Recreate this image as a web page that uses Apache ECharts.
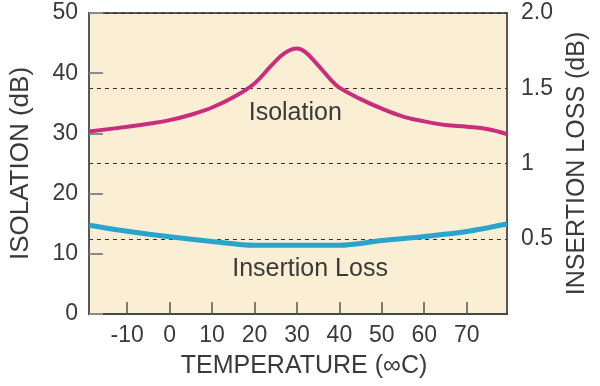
<!DOCTYPE html>
<html>
<head>
<meta charset="utf-8">
<script src="https://cdn.jsdelivr.net/npm/echarts@6/dist/echarts.min.js"></script>
<style>
html,body{margin:0;padding:0;background:#fff;}
#c{width:600px;height:386px;}
</style>
</head>
<body>
<div id="c"></div>
<script>
// Temperatures (°C) at which the curves were read
const isoTemps = [-19, -10, -5, 0, 5, 10, 15, 20, 24, 27, 30, 32, 35, 38, 40, 45, 50, 55, 60, 65, 70, 75, 79.5];
// Isolation (dB), left axis
const isolation = [30.3, 31.1, 31.6, 32.2, 33.1, 34.3, 36.0, 38.3, 41.3, 43.3, 44.1, 43.5, 41.3, 38.9, 37.6, 35.7, 34.1, 32.8, 32.0, 31.4, 31.1, 30.7, 29.9];
// Insertion loss temps and values (dB), right axis
const ilTemps = [-19, -10, 0, 10, 20, 30, 40, 50, 60, 70, 79.5];
const insertionLoss = [0.59, 0.55, 0.513, 0.482, 0.457, 0.457, 0.457, 0.488, 0.515, 0.548, 0.598];
// Right-axis tick labels
const rightTickValues = [0.5, 1, 1.5, 2];
const rightTickLabels = ['0.5', '1', '1.5', '2.0'];
// Curve annotations: [temperature, value]
const isoLabel = {text: 'Isolation', at: [29.6, 33.4]};
const ilLabel = {text: 'Insertion Loss', at: [33.1, 0.295]};

const isoData = isoTemps.map((t, i) => [t, isolation[i]]);
const ilData = ilTemps.map((t, i) => [t, insertionLoss[i]]);

const FONT = 'Liberation Sans';
const TXT = '#3a3a3a';

const chart = echarts.init(document.getElementById('c'), null, {renderer: 'canvas'});
chart.setOption({
  animation: false,
  backgroundColor: '#ffffff',
  textStyle: {fontFamily: FONT},
  grid: {
    left: 89, right: 93, top: 13, bottom: 72,
    containLabel: false,
    show: true,
    backgroundColor: '#FAEED4',
    borderColor: '#575757',
    borderWidth: 2
  },
  xAxis: {
    type: 'value',
    min: -19, max: 79.5,
    splitNumber: 10, minInterval: 10, maxInterval: 10,
    name: 'TEMPERATURE (\u221EC)',
    nameLocation: 'middle',
    nameGap: 40,
    nameTextStyle: {fontFamily: FONT, fontSize: 25, color: TXT, padding: [0, 0, 0, 12]},
    axisLine: {show: true, onZero: false, lineStyle: {color: '#474747', width: 2}},
    axisTick: {show: true, inside: true, length: 12, lineStyle: {color: '#555', width: 1.5}},
    axisLabel: {show: true, showMinLabel: false, showMaxLabel: false, fontFamily: FONT, fontSize: 23, color: TXT, margin: 10},
    splitLine: {show: false}
  },
  yAxis: [
    {
      type: 'value', min: 0, max: 50, interval: 10,
      name: 'ISOLATION (dB)',
      nameLocation: 'middle', nameRotate: 90, nameGap: 55,
      nameTextStyle: {fontFamily: FONT, fontSize: 26, color: TXT},
      axisLine: {show: true, onZero: false, lineStyle: {color: '#575757', width: 2}},
      axisTick: {show: true, inside: true, length: 14, lineStyle: {color: '#8a8a8a', width: 2}},
      axisLabel: {fontFamily: FONT, fontSize: 23, color: TXT, margin: 11},
      splitLine: {show: false}
    },
    {
      type: 'value', min: 0, max: 2, interval: 0.5,
      position: 'right',
      name: 'INSERTION LOSS (dB)',
      nameLocation: 'middle', nameRotate: 90, nameGap: 58,
      nameTextStyle: {fontFamily: FONT, fontSize: 25, color: TXT},
      axisLine: {show: false, onZero: false},
      axisTick: {show: false},
      axisLabel: {
        fontFamily: FONT, fontSize: 23, color: TXT, margin: 14,
        showMinLabel: false,
        formatter: function (v) {
          const i = rightTickValues.findIndex(x => Math.abs(x - v) < 1e-9);
          return i >= 0 ? rightTickLabels[i] : '';
        }
      },
      splitLine: {show: true, lineStyle: {color: '#333', width: 1, type: [4, 4]}}
    }
  ],
  series: [
    {
      name: 'Isolation', type: 'line', xAxisIndex: 0, yAxisIndex: 0,
      data: isoData, smooth: 0.4, showSymbol: false, symbol: 'none',
      lineStyle: {color: '#C92D7B', width: 4},
      itemStyle: {color: '#C92D7B'},
      z: 3,
      markPoint: {
        symbol: 'circle', symbolSize: 0,
        label: {show: true, position: 'inside', formatter: isoLabel.text, color: TXT, fontFamily: FONT, fontSize: 25},
        data: [{coord: isoLabel.at}]
      }
    },
    {
      name: 'Insertion Loss', type: 'line', xAxisIndex: 0, yAxisIndex: 1,
      data: ilData, smooth: 0.3, showSymbol: false, symbol: 'none',
      lineStyle: {color: '#2AA4CC', width: 5},
      itemStyle: {color: '#2AA4CC'},
      z: 3,
      markPoint: {
        symbol: 'circle', symbolSize: 0,
        label: {show: true, position: 'inside', formatter: ilLabel.text, color: TXT, fontFamily: FONT, fontSize: 25},
        data: [{coord: ilLabel.at}]
      }
    }
  ]
});
</script>
</body>
</html>
